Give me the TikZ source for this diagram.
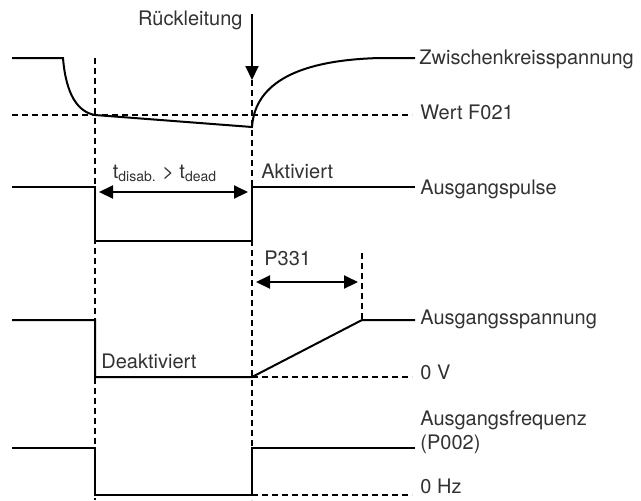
\documentclass[tikz,border=0pt]{standalone}
\usepackage{fontspec}
\setmainfont{TeX Gyre Heros}
\usetikzlibrary{arrows.meta}
\definecolor{inkgray}{RGB}{50,50,50}

\begin{document}
\begin{tikzpicture}[x=0.5pt,y=-0.5pt,
  sig/.style={line width=1pt,line join=miter},
  guide/.style={line width=0.8pt,dash pattern=on 3pt off 2pt},
  tip/.style={-{Triangle[length=7pt,width=6.5pt]}},
  span/.style={line width=1pt,{Triangle[length=7pt,width=6.5pt]}-{Triangle[length=7pt,width=6.5pt]}},
  lbl/.style={inkgray,inner sep=0pt,anchor=base west,font=\fontsize{10}{12}\selectfont}]
  \useasboundingbox (0,0) rectangle (641,500);
  % time marks
  \draw[guide] (95,58) -- (95,500);
  \draw[guide] (252,80) -- (252,500);
  \draw[guide] (362,253) -- (362,320);
  % DC link
  \draw[guide] (12,115) -- (412,115);
  \draw[sig] (12,58) -- (63,58) .. controls (66,95) and (78,112) .. (95,115)
    -- (252,127) .. controls (255,82) and (300,60) .. (380,58) -- (415,58);
  \coordinate (rltop) at (252,14);
  \coordinate (rlend) at (252,80);
  \draw[line width=1pt,tip] (rltop) -- (rlend);
  % pulses
  \draw[sig] (12,187) -- (95,187) -- (95,241) -- (252,241) -- (252,187) -- (415,187);
  \coordinate (dl) at (99,192);
  \coordinate (dr) at (248,192);
  \draw[span] (dl) -- (dr);
  % output voltage
  \draw[guide] (252,377) -- (412,377);
  \draw[sig] (12,320) -- (95,320) -- (95,377) -- (252,377) -- (362,320) -- (415,320);
  \coordinate (pl) at (256,282);
  \coordinate (pr) at (358,282);
  \draw[span] (pl) -- (pr);
  % output frequency
  \draw[guide] (252,495) -- (412,495);
  \draw[sig] (12,448) -- (95,448) -- (95,495) -- (252,495) -- (252,448) -- (415,448);

  \node[lbl,anchor=base east] (rl) at (243,25) {Rückleitung};
  \node[lbl] (zk) at (419,64) {Zwischenkreisspannung};
  \node[lbl] (wf) at (420,119) {Wert F021};
  \node[lbl] (akt) at (261,178) {Aktiviert};
  \node[lbl,anchor=base] (tdis) at (165,178) {t\textsubscript{disab.} > t\textsubscript{dead}};
  \node[lbl] (ap) at (420,194) {Ausgangspulse};
  \node[lbl] (p331) at (264,265) {P331};
  \node[lbl] (as) at (420,324) {Ausgangsspannung};
  \node[lbl] (deakt) at (101,368) {Deaktiviert};
  \node[lbl] (nv) at (420,379) {0 V};
  \node[lbl,align=left] (af) at (420,449) {Ausgangsfrequenz\\(P002)};
  \node[lbl] (nhz) at (420,493) {0 Hz};
\end{tikzpicture}
\end{document}
